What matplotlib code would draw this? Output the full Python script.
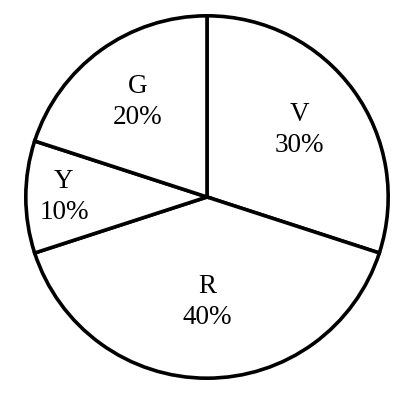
import numpy as np
import matplotlib
matplotlib.use("Agg")
import matplotlib.pyplot as plt

labels = ["V", "R", "Y", "G"]
values = [30, 40, 10, 20]
label_radius = [0.63, 0.58, 0.79, 0.65]

plt.rcParams['font.family'] = ['Liberation Serif', 'DejaVu Serif']

fig = plt.figure(figsize=(4.13, 4.04), dpi=100)
ax = fig.add_axes([(207 - 183) / 413, (404 - 197 - 183) / 404, 366 / 413, 366 / 404])
wedges, _ = ax.pie(values, startangle=90, counterclock=False,
                   colors=['white'] * len(values),
                   wedgeprops=dict(edgecolor='black', linewidth=2.6))
for w, lab, v, r in zip(wedges, labels, values, label_radius):
    ang = np.deg2rad((w.theta1 + w.theta2) / 2)
    ax.text(r * np.cos(ang), r * np.sin(ang), f"{lab}\n{v}%", ha='center', va='center',
            fontsize=19.5, linespacing=1.3)
ax.set_xlim(-1.01, 1.01)
ax.set_ylim(-1.01, 1.01)
ax.set_aspect('equal')
ax.axis('off')
fig.savefig("out.png", dpi=100)
